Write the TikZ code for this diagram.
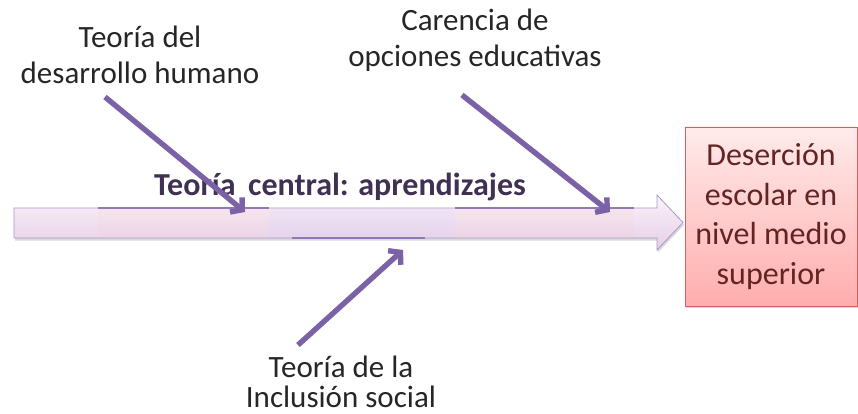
\documentclass[tikz,border=0pt]{standalone}
\usepackage{fontspec}
\setmainfont{Carlito}
\usetikzlibrary{arrows.meta,shadows}

\definecolor{hueso}{HTML}{7B62A6}
\definecolor{lomo}{HTML}{A898C6}
\definecolor{tinta}{HTML}{262626}
\definecolor{morado}{HTML}{403152}
\definecolor{rojo}{HTML}{D2605C}
\definecolor{vino}{HTML}{632523}

\tikzset{
  bone/.style={draw=hueso, line width=5.4pt, -{Straight Barb[length=8pt,width=19pt]},
    drop shadow={shadow xshift=1pt, shadow yshift=-1.5pt, opacity=.25}},
  causa/.style={text=tinta, align=center, font=\fontsize{31}{36}\selectfont, inner sep=0pt},
  efectobox/.style={draw=rojo, line width=0.8pt, top color=red!8, bottom color=red!32!white,
    text=vino, align=center, font=\fontsize{32}{39.5}\selectfont,
    minimum width=172pt, minimum height=179pt, inner sep=0pt,
    drop shadow={shadow xshift=1pt, shadow yshift=-2pt, opacity=.3}},
}

\begin{document}
\begin{tikzpicture}[x=1pt, y=-1pt]
\useasboundingbox (0,0) rectangle (858,414);

% lomo
\path [draw=lomo, line width=0.8pt, top color=violet!5, bottom color=violet!19!white,
  drop shadow={shadow xshift=1pt, shadow yshift=-2.5pt, opacity=.3}]
  (14,208) -- (657,208) -- (657,195) -- (683,222.5) -- (657,250) -- (657,238) -- (14,238) -- cycle;
\fill [red!25, opacity=0.10] (98,209) rectangle (269,237.5);
\fill [blue!30, opacity=0.08] (269,209) rectangle (455,237.5);
\fill [red!25, opacity=0.10] (455,209) rectangle (634,237.5);
\draw [hueso!85, line width=1.4pt] (98,208) -- (269,208);
\draw [hueso!85, line width=1.4pt] (455,208) -- (634,208);
\draw [hueso!85, line width=1.4pt] (292,238) -- (425,238);

\node [font=\bfseries\fontsize{32}{38}\selectfont, text=morado] (central) at (340,187) {Teoría\, central: aprendizajes};

% efecto
\node [efectobox] (efecto) at (771,216.5) {Deserción\\escolar en\\nivel medio\\superior};

% causas
\node [causa] (humano) at (140,55) {Teoría del\\desarrollo humano};
\node [causa] (opciones) at (475,40) {Carencia de\\opciones educativas};
\node [causa, font=\fontsize{31}{30}\selectfont] (inclusion) at (341,382) {Teoría de la\\Inclusión social};

\coordinate (h0) at (105,97);   \coordinate (h1) at (245,212);
\coordinate (o0) at (462,95);   \coordinate (o1) at (610,212);
\coordinate (i0) at (298,345);  \coordinate (i1) at (403,250);

\draw [bone] (h0) -- (h1);
\draw [bone] (o0) -- (o1);
\draw [bone] (i0) -- (i1);

\end{tikzpicture}
\end{document}
